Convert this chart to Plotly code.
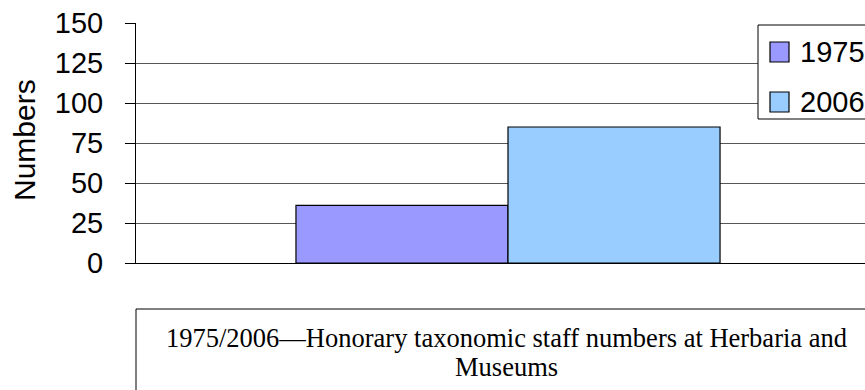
import plotly.graph_objects as go

categories = ["Herbaria and Museums"]
series_names = ["1975", "2006"]
values_1975 = [36]
values_2006 = [85]
colors = ["#9999FF", "#99CCFF"]
y_ticks = [0, 25, 50, 75, 100, 125, 150]
y_title = "Numbers"
caption_lines = ["1975/2006—Honorary taxonomic staff numbers at Herbaria and", "Museums"]

W, H = 865, 390
L, T, B = 136, 23, 263

def px_x(p):
    return (p - L) / (W - L)

def px_y(p):
    return (B - p) / (B - T)

fig = go.Figure()
for name, vals, col in zip(series_names, [values_1975, values_2006], colors):
    fig.add_trace(go.Bar(
        x=categories, y=vals, name=name, showlegend=False,
        marker=dict(color=col, line=dict(color="#000000", width=1.2)),
    ))

fig.update_layout(
    width=W, height=H,
    margin=dict(l=L, r=0, t=T, b=H - B, pad=0),
    paper_bgcolor="white", plot_bgcolor="white",
    barmode="group", bargap=0.43, bargroupgap=0,
    font=dict(family="Liberation Sans, Arial", color="#000000"),
    xaxis=dict(
        range=[-0.5, -0.5 + (W - L) / 744], showticklabels=False,
        showline=True, linecolor="#000000", linewidth=1, ticks="",
        showgrid=False, zeroline=False, fixedrange=True,
    ),
    yaxis=dict(
        range=[0, 150], tickvals=y_ticks, ticktext=[str(v) for v in y_ticks],
        showline=True, linecolor="#000000", linewidth=1,
        ticks="outside", ticklen=10, tickcolor="#000000",
        ticklabelstandoff=16, automargin=False,
        showgrid=True, gridcolor="#555555", gridwidth=1, zeroline=False,
        tickfont=dict(size=29, family="Liberation Sans, Arial"),
    ),
    showlegend=False,
)

# y-axis title
fig.add_annotation(xref="paper", yref="paper", x=px_x(24), y=px_y(140),
                   text=y_title, textangle=-90, showarrow=False,
                   xanchor="center", yanchor="middle",
                   font=dict(family="Liberation Sans, Arial", size=30, color="#000000"))

# legend (drawn manually so it can run off the right edge like the reference)
fig.add_shape(type="rect", xref="paper", yref="paper",
              x0=px_x(758), x1=px_x(885), y0=px_y(119), y1=px_y(25),
              line=dict(color="#000000", width=1), fillcolor="white", layer="above")
for name, col, yc in zip(series_names, colors, [52, 102]):
    fig.add_shape(type="rect", xref="paper", yref="paper",
                  x0=px_x(770), x1=px_x(789), y0=px_y(yc + 10), y1=px_y(yc - 10),
                  line=dict(color="#000000", width=1.2), fillcolor=col, layer="above")
    fig.add_annotation(xref="paper", yref="paper", x=px_x(798), y=px_y(yc),
                       text=name, showarrow=False, xanchor="left", yanchor="middle",
                       font=dict(family="Liberation Sans, Arial", size=29, color="#000000"))

# caption box
fig.add_shape(type="rect", xref="paper", yref="paper",
              x0=px_x(136), x1=px_x(880), y0=px_y(309), y1=px_y(400),
              line=dict(color="#000000", width=1), fillcolor="rgba(0,0,0,0)")
for line, yc in zip(caption_lines, [338, 367]):
    fig.add_annotation(xref="paper", yref="paper", x=px_x(506), y=px_y(yc),
                       text=line, showarrow=False,
                       xanchor="center", yanchor="middle", align="center",
                       font=dict(family="Liberation Serif, Times New Roman", size=26.5, color="#000000"))

fig.write_html("out.html", config={"displayModeBar": False},
               post_script="document.body.style.margin='0px';")
